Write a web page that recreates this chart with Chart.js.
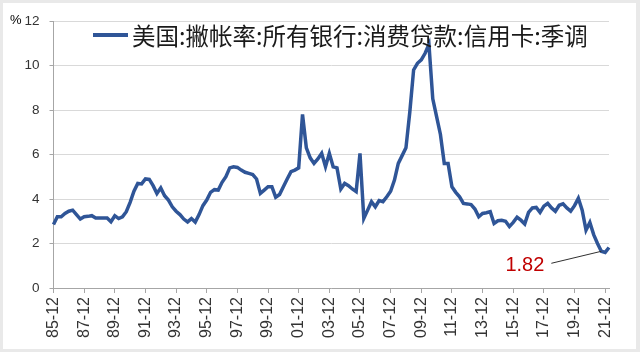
<!DOCTYPE html>
<html>
<head>
<meta charset="utf-8">
<script src="https://cdn.jsdelivr.net/npm/chart.js@4/dist/chart.umd.min.js"></script>
<style>
  html, body { margin: 0; padding: 0; background: #fff; }
  #wrap { width: 640px; height: 352px; }
</style>
</head>
<body>
<div id="wrap"><canvas id="chart" width="640" height="352"></canvas></div>
<script>
// quarterly charge-off rate, 1985-12 .. 2022-03 (%)
const rate1985to1989 = [2.85, 3.2, 3.2, 3.35, 3.45, 3.5, 3.3, 3.1, 3.2, 3.22, 3.25, 3.15, 3.15, 3.15, 3.15, 2.98, 3.25];
const rate1990s = [3.12, 3.2, 3.43, 3.85, 4.35, 4.7, 4.68, 4.9, 4.88, 4.6, 4.25, 4.5, 4.15, 3.95, 3.65, 3.45, 3.3, 3.1, 2.97, 3.12,
                   2.96, 3.3, 3.7, 3.95, 4.3, 4.42, 4.4, 4.75, 5.0, 5.4, 5.45, 5.42, 5.3, 5.2, 5.15, 5.1, 4.9, 4.25, 4.4, 4.55];
const rate2000s = [4.55, 4.08, 4.2, 4.55, 4.9, 5.23, 5.3, 5.4, 7.8, 6.3, 5.85, 5.6, 5.8, 6.05, 5.45, 6.05, 5.45, 5.4, 4.45, 4.7,
                   4.6, 4.45, 4.33, 6.05, 3.13, 3.5, 3.88, 3.65, 3.93, 3.88, 4.1, 4.35, 4.85, 5.6, 5.95, 6.3, 7.9, 9.8, 10.1, 10.25];
const rate2010s = [10.55, 10.95, 8.5, 7.7, 6.9, 5.6, 5.6, 4.55, 4.3, 4.1, 3.8, 3.78, 3.75, 3.55, 3.2, 3.35, 3.38, 3.43, 2.9, 3.02,
                   3.04, 3.0, 2.76, 2.95, 3.18, 3.05, 2.88, 3.4, 3.6, 3.62, 3.4, 3.68, 3.8, 3.6, 3.45, 3.72, 3.78, 3.6, 3.45, 3.7];
const rate2020s = [4.03, 3.5, 2.6, 2.95, 2.4, 2.0, 1.65, 1.6, 1.82];

const seriesName = "美国:撇帐率:所有银行:消费贷款:信用卡:季调";
const tickLabels = ["85-12", "87-12", "89-12", "91-12", "93-12", "95-12", "97-12", "99-12", "01-12",
                    "03-12", "05-12", "07-12", "09-12", "11-12", "13-12", "15-12", "17-12", "19-12", "21-12"];
const yTicks = [0, 2, 4, 6, 8, 10, 12];
const calloutText = "1.82";
const calloutIndex = 143;

const values = [].concat(rate1985to1989, rate1990s, rate2000s, rate2010s, rate2020s);

// quarter categories yy-mm
let quarters = [];
let yr = 1985, mo = 12;
for (let i = 0; i < values.length; i++) {
    quarters.push(String(yr % 100).padStart(2, "0") + "-" + String(mo).padStart(2, "0"));
    mo += 3;
    if (mo > 12) { mo -= 12; yr++; }
}

const LINE = "#2f5597";
const TXT = "#333333";
const FONT = "'Liberation Sans', Arial, sans-serif";

const decor = {
    id: "decor",
    beforeDraw(chart) {
        const ctx = chart.ctx;
        ctx.save();
        ctx.fillStyle = "#e9e9e9";
        ctx.fillRect(0, 0, chart.width, chart.height);
        ctx.fillStyle = "#ffffff";
        ctx.fillRect(3, 3, chart.width - 7, chart.height - 6);
        ctx.restore();
    },
    afterDraw(chart) {
        const ctx = chart.ctx;
        const xs = chart.scales.x, ys = chart.scales.y;
        ctx.save();

        // unit
        ctx.fillStyle = "#000";
        ctx.font = "13px " + FONT;
        ctx.textBaseline = "middle";
        ctx.textAlign = "left";
        ctx.fillText("%", 10, 20);

        // legend
        ctx.strokeStyle = LINE;
        ctx.lineWidth = 4;
        ctx.beginPath();
        ctx.moveTo(93, 35);
        ctx.lineTo(128, 35);
        ctx.stroke();
        ctx.fillStyle = "#1a1a1a";
        ctx.font = "23.5px 'Noto Sans CJK SC', sans-serif";
        ctx.fillText(seriesName, 132, 36);

        // callout
        const px = xs.getPixelForValue(calloutIndex);
        const py = ys.getPixelForValue(values[calloutIndex]);
        ctx.strokeStyle = "#303030";
        ctx.lineWidth = 1;
        ctx.beginPath();
        ctx.moveTo(px, py);
        ctx.lineTo(px - 50, py + 12);
        ctx.stroke();
        ctx.fillStyle = "#c00000";
        ctx.font = "20px " + FONT;
        ctx.textAlign = "right";
        ctx.fillText(calloutText, px - 57, py + 14);
        ctx.restore();
    }
};

new Chart(document.getElementById("chart"), {
    type: "line",
    data: {
        labels: quarters,
        datasets: [{
            label: seriesName,
            data: values,
            borderColor: LINE,
            borderWidth: 3.5,
            pointRadius: 0,
            tension: 0,
            fill: false
        }]
    },
    options: {
        responsive: false,
        animation: false,
        layout: { padding: { top: 21, right: 31, left: 0, bottom: 0 } },
        plugins: { legend: { display: false }, tooltip: { enabled: false } },
        scales: {
            x: {
                type: "category",
                offset: false,
                afterFit: s => { s.height = 64; },
                border: { color: "#a6a6a6", width: 1 },
                grid: { display: true, drawOnChartArea: false, drawTicks: true, tickLength: 5, color: "#a6a6a6" },
                ticks: {
                    autoSkip: false,
                    maxRotation: 90,
                    minRotation: 90,
                    padding: 4,
                    color: TXT,
                    font: { size: 16, family: FONT },
                    callback: function (v, i) {
                        const l = quarters[i];
                        return tickLabels.includes(l) ? l : null;
                    }
                }
            },
            y: {
                min: 0,
                max: 12,
                afterFit: s => { s.width = 53.5; },
                afterBuildTicks: s => { s.ticks = yTicks.map(v => ({ value: v })); },
                border: { color: "#a6a6a6", width: 1 },
                grid: {
                    color: "#d9d9d9",
                    borderDash: [4, 3],
                    tickLength: 4,
                    tickColor: "#a6a6a6",
                    tickBorderDash: []
                },
                ticks: {
                    padding: 10,
                    color: TXT,
                    font: { size: 13.5, family: FONT }
                }
            }
        }
    },
    plugins: [decor]
});
</script>
</body>
</html>
